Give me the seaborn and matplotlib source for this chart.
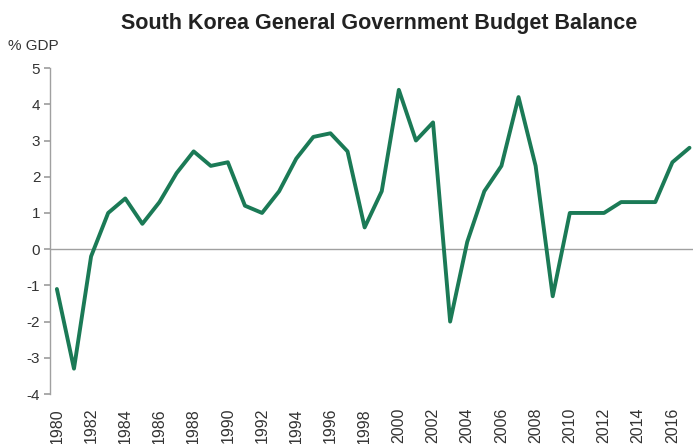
import matplotlib
matplotlib.use('Agg')
import matplotlib.pyplot as plt
import pandas as pd
import seaborn as sns

# general government budget balance, % of GDP
years = list(range(1980, 2018))
balance = [-1.1, -3.3, -0.2, 1.0, 1.4, 0.7, 1.3, 2.1, 2.7, 2.3,
           2.4, 1.2, 1.0, 1.6, 2.5, 3.1, 3.2, 2.7, 0.6, 1.6,
           4.4, 3.0, 3.5, -2.0, 0.2, 1.6, 2.3, 4.2, 2.3, -1.3,
           1.0, 1.0, 1.0, 1.3, 1.3, 1.3, 2.4, 2.8]
tick_years = list(range(1980, 2017, 2))
y_ticks = list(range(-4, 6))

df = pd.DataFrame({'year': years, 'balance': balance})

sns.set_theme(style='white')
plt.rcParams['font.family'] = ['Liberation Sans', 'DejaVu Sans']

fig = plt.figure(figsize=(6.95, 4.44), dpi=100)
ax = fig.add_axes([0.072, 0.1126, 0.925, 0.734])

sns.lineplot(data=df, x='year', y='balance', ax=ax, color='#1b7a56', linewidth=2.8)
ax.axhline(0, color='#a0a0a0', linewidth=1, zorder=0)

ax.set_xlim(1979.6, 2017.2)
ax.set_ylim(-4, 5)
ax.set_xticks(tick_years)
ax.set_xticklabels([str(y) for y in tick_years], rotation=90, fontsize=11.5, color='#333333')
ax.set_yticks(y_ticks)
ax.set_yticklabels([str(v) for v in y_ticks], fontsize=11, color='#333333')
ax.tick_params(axis='y', left=True, length=4, color='#a0a0a0', pad=3)
ax.tick_params(axis='x', bottom=False, pad=4)
ax.set_xlabel('')
ax.set_ylabel('')

for side in ['top', 'right', 'bottom']:
    ax.spines[side].set_visible(False)
ax.spines['left'].set_color('#a0a0a0')
ax.spines['left'].set_linewidth(1)

fig.text(0.545, 0.947, 'South Korea General Government Budget Balance',
         ha='center', va='center', fontsize=15.5, fontweight='bold', color='#222222')
fig.text(0.012, 0.897, '% GDP', ha='left', va='center', fontsize=11, color='#333333')

fig.savefig('out.png', dpi=100)
